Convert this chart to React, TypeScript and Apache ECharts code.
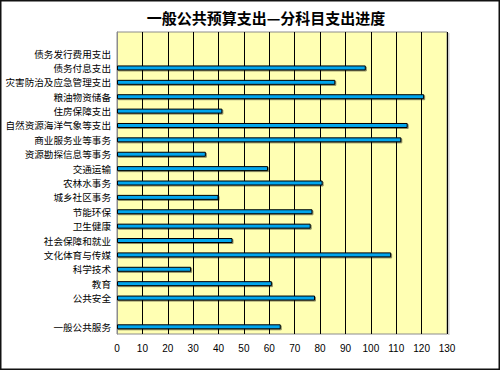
import React, { useEffect, useRef } from "react";
import * as echarts from "echarts";

const titleText = "一般公共预算支出—分科目支出进度";

// categories top to bottom ("" = empty slot)
const categories = [
  "",
  "债务发行费用支出",
  "债务付息支出",
  "灾害防治及应急管理支出",
  "粮油物资储备",
  "住房保障支出",
  "自然资源海洋气象等支出",
  "商业服务业等事务",
  "资源勘探信息等事务",
  "交通运输",
  "农林水事务",
  "城乡社区事务",
  "节能环保",
  "卫生健康",
  "社会保障和就业",
  "文化体育与传媒",
  "科学技术",
  "教育",
  "公共安全",
  " ",
  "一般公共服务",
];

const progressValues: (number | null)[] = [
  null,
  null,
  98,
  86,
  121,
  41.5,
  114.5,
  112,
  35,
  59.5,
  81,
  40,
  77,
  76.3,
  45.5,
  108,
  29.2,
  61,
  78,
  null,
  64.5,
];

const xMin = 0;
const xMax = 130;
const xInterval = 10;

export default function App() {
  const ref = useRef<HTMLDivElement>(null);
  useEffect(() => {
    if (!ref.current) return;
    const chart = echarts.init(ref.current, undefined, { renderer: "svg" });
    chart.setOption({
      animation: false,
      backgroundColor: "#ffffff",
      title: {
        text: titleText,
        left: 261,
        textAlign: "center",
        top: 5,
        textStyle: {
          fontFamily: "Noto Sans CJK SC",
          fontSize: 15,
          fontWeight: "bold",
          color: "#000",
        },
      },
      grid: {
        left: 117,
        right: 53,
        top: 32,
        bottom: 36,
        show: true,
        backgroundColor: "#FFFFB3",
        borderColor: "#8c8c8c",
        borderWidth: 1,
      },
      xAxis: {
        type: "value",
        min: xMin,
        max: xMax,
        interval: xInterval,
        axisLine: { show: false },
        axisTick: { show: false },
        splitLine: { show: true, lineStyle: { color: "#000", width: 1 } },
        axisLabel: {
          color: "#000",
          fontSize: 10,
          fontFamily: "Liberation Sans",
          margin: 9,
        },
      },
      yAxis: {
        type: "category",
        data: categories,
        inverse: true,
        axisLine: { show: true, lineStyle: { color: "#8c8c8c", width: 1 } },
        axisTick: { show: false },
        splitLine: { show: false },
        axisLabel: {
          color: "#000",
          fontSize: 9.6,
          fontFamily: "Noto Sans CJK SC",
          margin: 6,
          interval: 0,
        },
      },
      series: [
        {
          type: "bar",
          data: progressValues,
          barWidth: 5,
          itemStyle: {
            color: "#00a6ee",
            borderColor: "#000",
            borderWidth: 1,
            shadowColor: "rgba(0,0,0,0.45)",
            shadowOffsetX: 1,
            shadowOffsetY: 1,
            shadowBlur: 0,
          },
        },
      ],
      graphic: [
        {
          type: "rect",
          shape: { x: 0.75, y: 0.75, width: 498.5, height: 368.5 },
          style: { fill: "none", stroke: "#111", lineWidth: 1.5 },
          silent: true,
        },
        {
          type: "line",
          shape: { x1: 448.5, y1: 33, x2: 448.5, y2: 335 },
          style: { stroke: "#cccccc", lineWidth: 2 },
          silent: true,
        },
      ],
    });
    return () => chart.dispose();
  }, []);
  return (
    <div
      ref={ref}
      style={{ position: "fixed", left: 0, top: 0, width: 500, height: 370 }}
    />
  );
}
